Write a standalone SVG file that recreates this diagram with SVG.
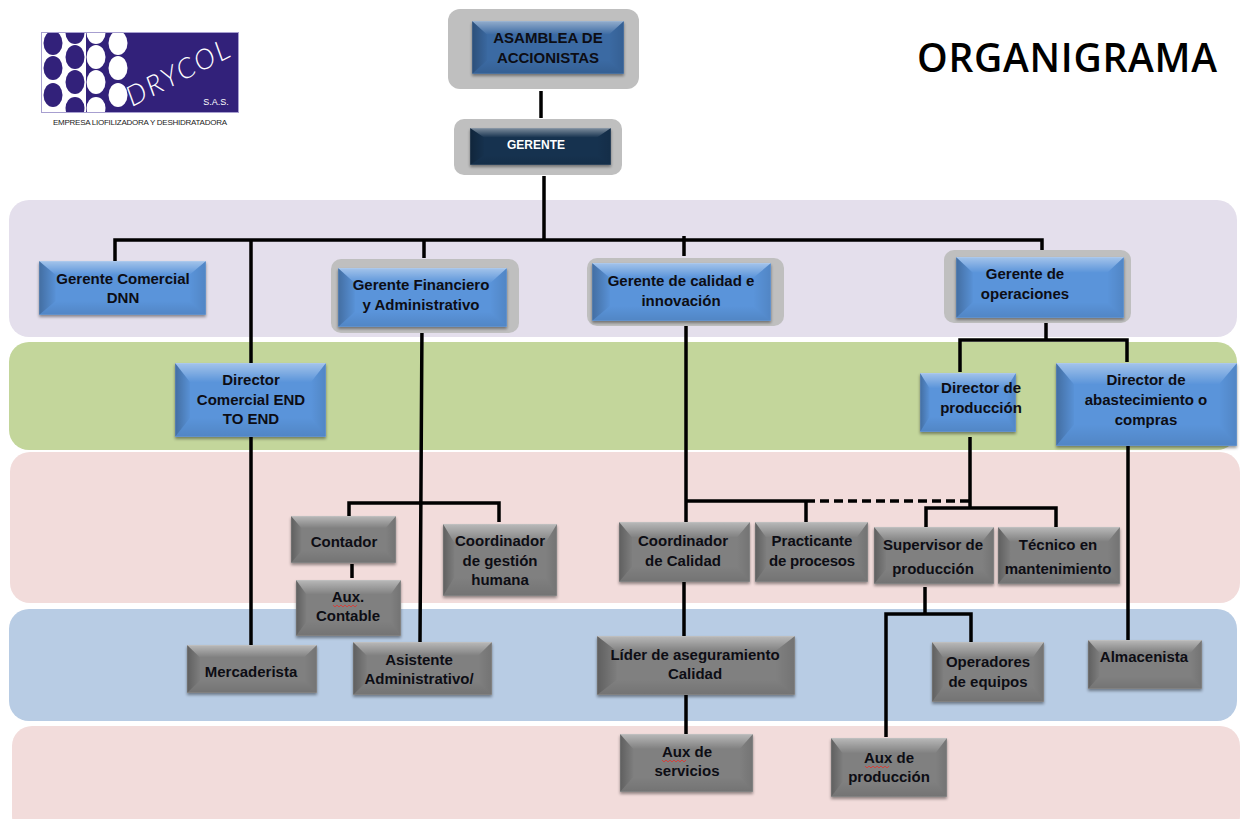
<svg xmlns="http://www.w3.org/2000/svg" width="1243" height="819" viewBox="0 0 1243 819">
<style>
text{font-family:"Liberation Sans",Arial,sans-serif;font-weight:700;font-size:15px;text-anchor:middle;fill:#0d0d14}
.band{stroke:none}
.halo{fill:#bfbfbf}
.blue{fill:#5a94da}.mid{fill:#3a6aa3}.dark{fill:#17304f}.gray{fill:#808080}
.base{filter:url(#sh)}
.c{fill:none;stroke:#000;stroke-width:3.5}
.sq{fill:none;stroke:#d0433f;stroke-width:1}
</style>
<defs>
<filter id="sh" x="-10%" y="-10%" width="120%" height="125%"><feDropShadow dx="0" dy="2" stdDeviation="1.5" flood-color="#000" flood-opacity=".4"/></filter>
<linearGradient id="tg" x1="0" y1="0" x2="0" y2="1"><stop offset="0" stop-color="#fff" stop-opacity=".45"/><stop offset="1" stop-color="#fff" stop-opacity="0"/></linearGradient>
<linearGradient id="lgr" x1="0" y1="0" x2="1" y2="0"><stop offset="0" stop-color="#000" stop-opacity=".26"/><stop offset="1" stop-color="#000" stop-opacity=".02"/></linearGradient>
<linearGradient id="rgr" x1="1" y1="0" x2="0" y2="0"><stop offset="0" stop-color="#000" stop-opacity=".1"/><stop offset="1" stop-color="#000" stop-opacity="0"/></linearGradient>
<linearGradient id="bgr" x1="0" y1="1" x2="0" y2="0"><stop offset="0" stop-color="#000" stop-opacity=".1"/><stop offset="1" stop-color="#000" stop-opacity="0"/></linearGradient>
<symbol id="bevel" viewBox="0 0 100 100" preserveAspectRatio="none">
<polygon points="0,0 100,0 90,26 10,26" fill="url(#tg)"/>
<polygon points="0,0 10,26 10,74 0,100" fill="url(#lgr)"/>
<polygon points="100,0 90,26 90,74 100,100" fill="url(#rgr)"/>
<polygon points="0,100 10,74 90,74 100,100" fill="url(#bgr)"/>
<rect x="0" y="0" width="100" height="100" fill="none" stroke="#fff" stroke-opacity=".2" stroke-width="1" vector-effect="non-scaling-stroke"/>
</symbol>
<clipPath id="lg"><rect x="41" y="32" width="198" height="81"/></clipPath>
</defs>
<rect width="1243" height="819" fill="#fff"/>
<g id="bands">
<rect class="band" x="9" y="200" width="1228" height="137" rx="20" fill="#e4dfec"/>
<rect class="band" x="9" y="342" width="1228" height="108" rx="20" fill="#c3d69b"/>
<rect class="band" x="10" y="452" width="1230" height="151" rx="20" fill="#f2dcdb"/>
<rect class="band" x="9" y="609" width="1228" height="112" rx="20" fill="#b8cce4"/>
<rect class="band" x="12" y="726" width="1228" height="110" rx="20" fill="#f2dcdb"/>
</g>
<g id="logo">
<rect x="41" y="32" width="198" height="81" fill="#32217a"/>
<rect x="41" y="32" width="45" height="81" fill="#fff"/>
<g clip-path="url(#lg)">
<g fill="#32217a"><ellipse cx="53" cy="43" rx="9.5" ry="12"/><ellipse cx="53" cy="68" rx="9.5" ry="12"/><ellipse cx="53" cy="95" rx="9.5" ry="12"/><ellipse cx="75" cy="33" rx="9.5" ry="11"/><ellipse cx="75" cy="57" rx="9.5" ry="12"/><ellipse cx="75" cy="82" rx="9.5" ry="12"/><ellipse cx="75" cy="108" rx="9.5" ry="11"/></g>
<g fill="#fff"><ellipse cx="96" cy="33" rx="9.5" ry="11"/><ellipse cx="96" cy="57" rx="9.5" ry="12"/><ellipse cx="96" cy="82" rx="9.5" ry="12"/><ellipse cx="96" cy="108" rx="9.5" ry="11"/><ellipse cx="118" cy="43" rx="9.5" ry="12"/><ellipse cx="118" cy="68" rx="9.5" ry="12"/><ellipse cx="118" cy="95" rx="9.5" ry="12"/></g>
</g>
<rect x="41.5" y="32.5" width="197" height="80" fill="none" stroke="#a79fd0" stroke-width="1"/>
<text transform="translate(132,107) rotate(-27)" style="font-family:Lato,'Liberation Sans',sans-serif;font-size:28px;font-weight:300;font-style:italic;fill:#fff;text-anchor:start" textLength="112">DRYCOL</text>
<text x="216" y="105" style="font-size:9px;font-weight:400;fill:#fff">S.A.S.</text>
<text x="140" y="125" style="font-size:8px;fill:#222;font-weight:400" textLength="174">EMPRESA LIOFILIZADORA Y DESHIDRATADORA</text>
</g>
<text id="title" x="1067" y="72" style="font-family:'Open Sans','Liberation Sans',sans-serif;font-size:39px;font-weight:600;fill:#000" textLength="300">ORGANIGRAMA</text>
<g id="connectors">
<path class="c" d="M541 91V118M544 176V240M115 261V240H1042V254M251 240V363M424 240V258M684 236V256M422 322L420 642M349 516V503H499V522M352 564V578M251 437V645M686 321V522M686 501H806M806 501V522M970 437V508M926 527V508H1056V527M684 580V636M686 695V734M925 587V614M886 737V614H971V642M1128 446V640M1046 323V340M960 372V340H1127V362"/>
<path class="c" d="M806 501H970" stroke-dasharray="9 5"/>
</g>
<g id="asamblea"><rect class="halo" x="448" y="9" width="191" height="80" rx="12"/><rect class="mid base" x="472" y="21" width="152" height="53"/><use href="#bevel" x="472" y="21" width="152" height="53"/><text x="548" y="43">ASAMBLEA DE</text><text x="548" y="63">ACCIONISTAS</text></g>
<g id="gerente"><rect class="halo" x="454" y="119" width="168" height="56" rx="10"/><rect class="dark base" x="470" y="128" width="141" height="37"/><use href="#bevel" x="470" y="128" width="141" height="37"/><text x="536" y="149" style="font-size:13px;fill:#fff" textLength="58" lengthAdjust="spacingAndGlyphs">GERENTE</text></g>
<g id="gerente-comercial"><rect class="blue base" x="39" y="261" width="167" height="54"/><use href="#bevel" x="39" y="261" width="167" height="54"/><text x="123" y="284">Gerente Comercial</text><text x="123" y="303">DNN</text></g>
<g id="gerente-financiero"><rect class="halo" x="331" y="259" width="188" height="74" rx="10"/><rect class="blue base" x="338" y="268" width="169" height="59"/><use href="#bevel" x="338" y="268" width="169" height="59"/><text x="421" y="290">Gerente Financiero</text><text x="421" y="310">y Administrativo</text></g>
<g id="gerente-calidad"><rect class="halo" x="587" y="258" width="197" height="68" rx="10"/><rect class="blue base" x="592" y="263" width="179" height="58"/><use href="#bevel" x="592" y="263" width="179" height="58"/><text x="681" y="286">Gerente de calidad e</text><text x="681" y="306">innovación</text></g>
<g id="gerente-operaciones"><rect class="halo" x="944" y="250" width="187" height="73" rx="10"/><rect class="blue base" x="956" y="257" width="168" height="61"/><use href="#bevel" x="956" y="257" width="168" height="61"/><text x="1025" y="279">Gerente de</text><text x="1025" y="299">operaciones</text></g>
<g id="director-comercial"><rect class="blue base" x="175" y="363" width="151" height="74"/><use href="#bevel" x="175" y="363" width="151" height="74"/><text x="251" y="385">Director</text><text x="251" y="405">Comercial END</text><text x="251" y="424">TO END</text></g>
<g id="director-produccion"><rect class="blue base" x="920" y="373" width="96" height="59"/><use href="#bevel" x="920" y="373" width="96" height="59"/><text x="981" y="393" textLength="80">Director de</text><text x="981" y="413">producción</text></g>
<g id="director-abastecimiento"><rect class="blue base" x="1056" y="363" width="181" height="83"/><use href="#bevel" x="1056" y="363" width="181" height="83"/><text x="1146" y="385">Director de</text><text x="1146" y="405">abastecimiento o</text><text x="1146" y="425">compras</text></g>
<g id="contador"><rect class="gray base" x="291" y="516" width="105" height="47"/><use href="#bevel" x="291" y="516" width="105" height="47"/><text x="344" y="547">Contador</text></g>
<g id="aux-contable"><rect class="gray base" x="296" y="580" width="105" height="56"/><use href="#bevel" x="296" y="580" width="105" height="56"/><text x="348" y="602">Aux.</text><text x="348" y="621">Contable</text><path class="sq" d="M333 605l2 2 2-2 2 2 2-2 2 2 2-2 2 2 2-2 2 2 2-2 2 2 2-2"/></g>
<g id="coordinador-gestion"><rect class="gray base" x="443" y="524" width="114" height="72"/><use href="#bevel" x="443" y="524" width="114" height="72"/><text x="500" y="546">Coordinador</text><text x="500" y="566">de gestión</text><text x="500" y="585">humana</text></g>
<g id="asistente"><rect class="gray base" x="353" y="642" width="139" height="53"/><use href="#bevel" x="353" y="642" width="139" height="53"/><text x="419" y="665">Asistente</text><text x="419" y="684">Administrativo/</text></g>
<g id="mercaderista"><rect class="gray base" x="187" y="645" width="130" height="48"/><use href="#bevel" x="187" y="645" width="130" height="48"/><text x="251" y="677">Mercaderista</text></g>
<g id="coordinador-calidad"><rect class="gray base" x="619" y="522" width="131" height="60"/><use href="#bevel" x="619" y="522" width="131" height="60"/><text x="683" y="546">Coordinador</text><text x="683" y="566">de Calidad</text></g>
<g id="practicante"><rect class="gray base" x="755" y="522" width="113" height="60"/><use href="#bevel" x="755" y="522" width="113" height="60"/><text x="812" y="546">Practicante</text><text x="812" y="566" textLength="86">de procesos</text></g>
<g id="supervisor"><rect class="gray base" x="874" y="527" width="120" height="57"/><use href="#bevel" x="874" y="527" width="120" height="57"/><text x="933" y="550">Supervisor de</text><text x="933" y="574">producción</text></g>
<g id="tecnico"><rect class="gray base" x="998" y="527" width="122" height="57"/><use href="#bevel" x="998" y="527" width="122" height="57"/><text x="1058" y="550">Técnico en</text><text x="1058" y="574">mantenimiento</text></g>
<g id="lider"><rect class="gray base" x="597" y="636" width="198" height="59"/><use href="#bevel" x="597" y="636" width="198" height="59"/><text x="695" y="660">Líder de aseguramiento</text><text x="695" y="679">Calidad</text></g>
<g id="operadores"><rect class="gray base" x="932" y="642" width="112" height="60"/><use href="#bevel" x="932" y="642" width="112" height="60"/><text x="988" y="667">Operadores</text><text x="988" y="687">de equipos</text></g>
<g id="almacenista"><rect class="gray base" x="1088" y="640" width="114" height="49"/><use href="#bevel" x="1088" y="640" width="114" height="49"/><text x="1144" y="662">Almacenista</text></g>
<g id="aux-servicios"><rect class="gray base" x="620" y="734" width="133" height="58"/><use href="#bevel" x="620" y="734" width="133" height="58"/><text x="687" y="757">Aux de</text><text x="687" y="776">servicios</text><path class="sq" d="M662 760l2 2 2-2 2 2 2-2 2 2 2-2 2 2 2-2 2 2 2-2 2 2 2-2"/></g>
<g id="aux-produccion"><rect class="gray base" x="831" y="738" width="116" height="59"/><use href="#bevel" x="831" y="738" width="116" height="59"/><text x="889" y="763">Aux de</text><text x="889" y="782">producción</text><path class="sq" d="M865 766l2 2 2-2 2 2 2-2 2 2 2-2 2 2 2-2 2 2 2-2 2 2 2-2"/></g>
</svg>
